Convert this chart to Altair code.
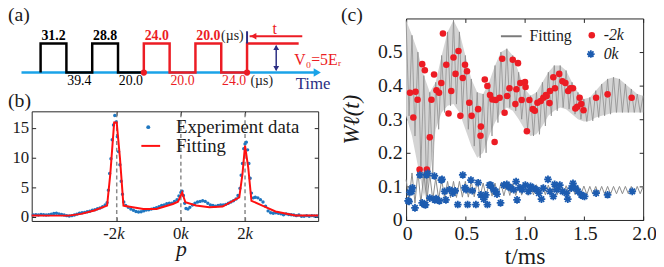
import altair as alt
import pandas as pd

W, H = 656, 259
SERIF = "Liberation Serif"
RED = "#ec1c24"
NAVY = "#2b2e83"
SKY = "#1aa3e8"
DOT_BLUE = "#1f77c0"
AST_BLUE = "#1d5cb0"
FRAME = "#262626"
GRAY_FILL = "#d4d4d4"
GRAY_LINE = "#858585"

# ---------------- panel (a): pulse schematic ----------------
a_edges = [0, 1, 2, 3, 4, 5, 6, 7, 8, 10]
a_levels = [1, 0, 1, 0, 1, 0, 1, 0, 1]
a_high_labels = ["31.2", "28.8", "24.0", "20.0"]
a_high_colors = ["black", "black", RED, RED]
a_low_labels = ["39.4", "20.0", "20.0", "24.0"]
a_low_colors = ["black", "black", RED, RED]

# ---------------- panel (b): momentum distribution ----------------
b_exp_p = [-4.60, -4.52, -4.44, -4.36, -4.28, -4.20, -4.12, -4.04, -3.96, -3.88,
           -3.80, -3.72, -3.64, -3.56, -3.48, -3.40, -3.32, -3.24, -3.16, -3.08,
           -3.00, -2.92, -2.84, -2.76, -2.68, -2.60, -2.52, -2.44, -2.36, -2.30,
           -2.26, -2.22, -2.18, -2.14, -2.10, -2.06, -2.02, -1.98, -1.94, -1.90,
           -1.86, -1.82, -1.78, -1.72, -1.64, -1.56, -1.48, -1.40, -1.32, -1.24,
           -1.16, -1.08, -1.00, -0.92, -0.84, -0.76, -0.68, -0.60, -0.52, -0.44,
           -0.36, -0.28, -0.20, -0.12, -0.06, 0.00, 0.04, 0.08, 0.12, 0.16,
           0.22, 0.28, 0.36, 0.44, 0.52, 0.60, 0.68, 0.76, 0.84, 0.92,
           1.00, 1.08, 1.16, 1.24, 1.32, 1.40, 1.48, 1.56, 1.64, 1.72,
           1.78, 1.84, 1.88, 1.92, 1.96, 2.00, 2.04, 2.08, 2.12, 2.16,
           2.20, 2.26, 2.32, 2.40, 2.48, 2.56, 2.64, 2.72, 2.80, 2.88,
           2.96, 3.04, 3.12, 3.20, 3.28, 3.36, 3.44, 3.52, 3.60, 3.68,
           3.76, 3.84, 3.92, 4.00, 4.08, 4.16, 4.24]
b_exp_v = [0.30, 0.35, 0.30, 0.40, 0.35, 0.30, 0.35, 0.45, 0.55, 0.60,
           0.50, 0.40, 0.30, 0.20, 0.15, 0.20, 0.30, 0.45, 0.60, 0.70,
           0.75, 0.85, 0.95, 1.10, 1.20, 1.35, 1.50, 1.70, 2.00, 2.40,
           4.50, 7.30, 9.80, 13.0, 15.5, 17.1, 16.0, 13.5, 11.0, 8.80,
           6.00, 3.80, 2.50, 1.90, 1.60, 1.30, 1.10, 0.90, 0.80, 0.85,
           1.00, 1.15, 1.20, 1.30, 1.40, 1.55, 1.70, 1.90, 2.00, 2.20,
           2.30, 2.30, 2.60, 2.90, 3.50, 4.10, 4.30, 3.60, 2.30, 1.40,
           1.30, 1.60, 2.00, 2.30, 2.50, 2.60, 2.70, 2.60, 2.30, 2.00,
           1.90, 1.80, 1.90, 2.00, 2.00, 2.10, 2.30, 2.50, 2.70, 3.00,
           3.60, 4.80, 7.00, 9.00, 11.5, 12.3, 12.6, 11.3, 9.00, 6.50,
           4.00, 3.20, 3.30, 3.20, 2.90, 2.50, 1.80, 1.00, 0.70, 0.60,
           0.70, 0.60, 0.50, 0.35, 0.50, 0.40, 0.35, 0.30, 0.20, 0.30,
           0.10, 0.10, 0.20, 0.10, 0.20, 0.15, 0.15]
b_fit_p = [-4.65, -4.10, -3.50, -3.10, -2.70, -2.30, -2.20, -2.08, -2.00, -1.90,
           -1.79, -1.64, -1.17, -0.76, -0.25, -0.09, 0.04, 0.14, 0.47, 0.89,
           1.30, 1.82, 1.92, 2.00, 2.10, 2.20, 2.54, 2.95, 3.57, 4.28]
b_fit_v = [0.23, 0.20, 0.20, 0.50, 1.07, 1.90, 7.20, 15.9, 15.9, 10.0,
           1.90, 1.75, 1.33, 1.33, 2.17, 2.56, 4.10, 2.45, 1.90, 1.60,
           1.73, 3.28, 7.20, 12.0, 8.30, 2.70, 1.90, 0.90, 0.23, 0.23]
b_marks = [-2, 0, 2]
b_yticks = [0, 5, 10, 15]
B_XDOM = [-4.65, 4.28]
B_YDOM = [-0.7, 17.8]

# ---------------- panel (c): populations vs time ----------------
c_t = [0.00, 0.05, 0.10, 0.15, 0.20, 0.25, 0.30, 0.35, 0.40, 0.45,
       0.50, 0.55, 0.60, 0.65, 0.70, 0.75, 0.80, 0.85, 0.90, 0.95,
       1.00, 1.05, 1.10, 1.15, 1.20, 1.25, 1.30, 1.35, 1.40, 1.45,
       1.50, 1.55, 1.60, 1.65, 1.70, 1.75, 1.80, 1.85, 1.90, 1.95, 2.00]
c_up2k = [0.595, 0.55, 0.50, 0.43, 0.38, 0.41, 0.49, 0.56, 0.595, 0.56,
          0.49, 0.42, 0.38, 0.375, 0.41, 0.46, 0.50, 0.51, 0.49, 0.44,
          0.39, 0.37, 0.38, 0.41, 0.44, 0.46, 0.46, 0.445, 0.41, 0.38,
          0.36, 0.365, 0.385, 0.405, 0.42, 0.425, 0.42, 0.405, 0.39, 0.375, 0.37]
c_lo2k = [0.31, 0.25, 0.16, 0.07, 0.13, 0.27, 0.32, 0.34, 0.345, 0.32,
          0.27, 0.22, 0.185, 0.20, 0.25, 0.29, 0.32, 0.335, 0.325, 0.30,
          0.27, 0.25, 0.255, 0.28, 0.31, 0.325, 0.335, 0.33, 0.315, 0.30,
          0.293, 0.295, 0.305, 0.31, 0.315, 0.32, 0.32, 0.32, 0.32, 0.32, 0.32]
c_up0k = [0.12, 0.14, 0.145, 0.14, 0.135, 0.125, 0.12, 0.115, 0.115, 0.115,
          0.115, 0.115, 0.115, 0.11, 0.11, 0.11, 0.11, 0.108, 0.108, 0.106,
          0.106, 0.105, 0.105, 0.104, 0.104, 0.103, 0.103, 0.102, 0.102, 0.101,
          0.101, 0.10, 0.10, 0.10, 0.10, 0.10, 0.10, 0.10, 0.10, 0.10, 0.10]
c_lo0k = [0.06, 0.05, 0.05, 0.055, 0.06, 0.062, 0.065, 0.066, 0.067, 0.068,
          0.068, 0.069, 0.07, 0.07, 0.071, 0.072, 0.072, 0.073, 0.073, 0.074,
          0.074, 0.075, 0.075, 0.075, 0.075, 0.075, 0.076, 0.076, 0.076, 0.076,
          0.076, 0.077, 0.077, 0.077, 0.077, 0.078, 0.078, 0.078, 0.078, 0.078, 0.078]
c_m2k_t = [0.033, 0.080, 0.097, 0.061, 0.136, 0.158, 0.214, 0.236, 0.256, 0.278,
           0.297, 0.311, 0.339, 0.358, 0.381, 0.400, 0.417, 0.442, 0.458, 0.478,
           0.497, 0.514, 0.533, 0.553, 0.608, 0.631, 0.628, 0.664, 0.686, 0.708,
           0.728, 0.756, 0.789, 0.811, 0.831, 0.853, 0.872, 0.900, 0.922, 0.944,
           0.931, 0.964, 0.975, 1.003, 1.008, 1.019, 1.040, 1.069, 1.086, 1.108,
           1.136, 1.158, 1.186, 1.214, 1.180, 1.210, 1.242, 1.256, 1.292, 1.319,
           1.344, 1.367, 1.386, 1.408, 1.428, 1.444, 1.464, 1.478, 1.497, 1.603,
           1.700, 1.903, 0.114, 0.175, 0.200, 0.747]
c_m2k_w = [0.379, 0.382, 0.358, 0.305, 0.464, 0.446, 0.358, 0.433, 0.386, 0.379,
           0.408, 0.555, 0.462, 0.317, 0.384, 0.484, 0.435, 0.503, 0.310, 0.423,
           0.462, 0.443, 0.349, 0.310, 0.330, 0.278, 0.251, 0.418, 0.399, 0.372,
           0.359, 0.357, 0.364, 0.480, 0.319, 0.369, 0.392, 0.477, 0.345, 0.467,
           0.389, 0.408, 0.357, 0.411, 0.396, 0.264, 0.357, 0.330, 0.325, 0.349,
           0.354, 0.364, 0.369, 0.384, 0.372, 0.348, 0.425, 0.392, 0.435, 0.413,
           0.408, 0.384, 0.392, 0.392, 0.332, 0.337, 0.364, 0.345, 0.327, 0.364,
           0.374, 0.364, 0.150, 0.150, 0.246, 0.232]
c_0k_t = [0.017, 0.025, 0.031, 0.047, 0.053, 0.075, 0.117, 0.136, 0.153, 0.164,
          0.172, 0.183, 0.200, 0.239, 0.242, 0.253, 0.281, 0.297, 0.303, 0.325,
          0.336, 0.367, 0.394, 0.414, 0.436, 0.478, 0.497, 0.506, 0.519, 0.547,
          0.558, 0.589, 0.608, 0.631, 0.656, 0.672, 0.686, 0.703, 0.714, 0.739,
          0.756, 0.767, 0.797, 0.825, 0.850, 0.867, 0.878, 0.908, 0.928, 0.936,
          0.961, 0.978, 1.006, 1.033, 1.050, 1.075, 1.103, 1.120, 1.142, 1.158,
          1.197, 1.214, 1.242, 1.253, 1.270, 1.297, 1.320, 1.353, 1.364, 1.394,
          1.408, 1.430, 1.450, 1.478, 1.490, 1.506, 1.603, 1.700, 1.908]
c_0k_w = [0.057, 0.055, 0.082, 0.085, 0.096, 0.036, 0.134, 0.051, 0.046, 0.045,
          0.134, 0.139, 0.065, 0.131, 0.060, 0.064, 0.057, 0.119, 0.121, 0.085,
          0.060, 0.090, 0.080, 0.087, 0.046, 0.134, 0.096, 0.090, 0.046, 0.119,
          0.087, 0.046, 0.111, 0.075, 0.062, 0.075, 0.046, 0.104, 0.104, 0.090,
          0.085, 0.077, 0.051, 0.104, 0.106, 0.099, 0.096, 0.090, 0.114, 0.060,
          0.096, 0.090, 0.104, 0.085, 0.100, 0.095, 0.090, 0.080, 0.062, 0.095,
          0.121, 0.085, 0.070, 0.106, 0.090, 0.104, 0.085, 0.080, 0.062, 0.095,
          0.109, 0.095, 0.085, 0.075, 0.072, 0.070, 0.080, 0.075, 0.085]
C_XDOM = [0, 2]
C_YDOM = [0, 0.6]
c_xticks = [0, 0.5, 1.0, 1.5, 2.0]
c_yticks = [0, 0.1, 0.2, 0.3, 0.4, 0.5]

# ---------------- layout (pixels inside the chart) ----------------
XB, YB = [24, 314], [214, 103]
XC, YC = [403, 643], [213, 9]
XA, YA = [33 - 26.125, 242 + 3 * 26.125], [63.7, 34.3]
A_XDOM, A_YDOM = [-1, 11], [0, 1]


def sc(dom, rng):
    return alt.Scale(domain=dom, range=rng, nice=False, zero=False)


def ax(orient, pos, values, labels=False, ticks=False, domain=False, **kw):
    if orient == "bottom":
        off = pos - H
    elif orient in ("top", "left"):
        off = -pos
    else:
        off = pos - W
    d = dict(orient=orient, offset=off, values=values, labels=labels, ticks=ticks,
             domain=domain, grid=False, title=None, tickSize=4 if ticks else 0,
             domainColor=FRAME, tickColor=FRAME, domainWidth=1, tickWidth=1,
             labelFont=SERIF, labelColor="#1a1a1a", labelFlush=False,
             labelOverlap=False)
    d.update(kw)
    return alt.Axis(**d)


layers = []

# ===== panel (a) =====
sxa = lambda: sc(A_XDOM, XA)
sya = lambda: sc(A_YDOM, YA)
rows = []
for grp, idx, col in (("black", [0, 1, 2, 3], "black"), ("red", [4, 5, 6, 7, 8], RED)):
    pts = [(a_edges[idx[0]], 0)]
    for i in idx:
        pts += [(a_edges[i], a_levels[i]), (a_edges[i + 1], a_levels[i])]
    for k, (u, l) in enumerate(pts):
        rows.append(dict(g=grp, col=col, o=k, u=u, l=l))
df_wave = pd.DataFrame(rows)

time_axis = pd.DataFrame({"u": [-0.74, 10.6], "l": [0, 0]})
layers.append(alt.Chart(time_axis).mark_line(color=SKY, strokeWidth=2.5).encode(
    x=alt.X("u:Q", scale=sxa(), axis=None), y=alt.Y("l:Q", scale=sya(), axis=None)))
layers.append(alt.Chart(pd.DataFrame({"u": [10.72], "l": [0]})).mark_point(
    shape="triangle-right", filled=True, color=SKY, size=70, opacity=1).encode(
    x=alt.X("u:Q", scale=sxa(), axis=None), y=alt.Y("l:Q", scale=sya(), axis=None)))
layers.append(alt.Chart(df_wave).mark_line(strokeWidth=2.5, strokeJoin="miter").encode(
    x=alt.X("u:Q", scale=sxa(), axis=None), y=alt.Y("l:Q", scale=sya(), axis=None),
    color=alt.Color("col:N", scale=None), detail="g:N", order="o:Q"))
layers.append(alt.Chart(pd.DataFrame({"u": [a_edges[4], a_edges[8]], "l": [0, 0]})).mark_circle(
    color=RED, size=40, opacity=1).encode(
    x=alt.X("u:Q", scale=sxa(), axis=None), y=alt.Y("l:Q", scale=sya(), axis=None)))
# navy marker at start of t
layers.append(alt.Chart(pd.DataFrame({"u": [a_edges[8]], "l": [1.0], "l2": [1.42]})).mark_rule(
    color=NAVY, strokeWidth=2).encode(
    x=alt.X("u:Q", scale=sxa(), axis=None), y=alt.Y("l:Q", scale=sya(), axis=None), y2="l2:Q"))
# red t arrow
layers.append(alt.Chart(pd.DataFrame({"u": [8.1], "u2": [10.14], "l": [1.25]})).mark_rule(
    color=RED, strokeWidth=2).encode(
    x=alt.X("u:Q", scale=sxa(), axis=None), x2="u2:Q", y=alt.Y("l:Q", scale=sya(), axis=None)))
layers.append(alt.Chart(pd.DataFrame({"u": [8.25], "l": [1.25]})).mark_point(
    shape="triangle-left", filled=True, color=RED, size=45, opacity=1).encode(
    x=alt.X("u:Q", scale=sxa(), axis=None), y=alt.Y("l:Q", scale=sya(), axis=None)))
# navy double arrow (V0)
layers.append(alt.Chart(pd.DataFrame({"u": [9.13], "l": [0.08], "l2": [0.92]})).mark_rule(
    color=NAVY, strokeWidth=1.5).encode(
    x=alt.X("u:Q", scale=sxa(), axis=None), y=alt.Y("l:Q", scale=sya(), axis=None), y2="l2:Q"))
layers.append(alt.Chart(pd.DataFrame({"u": [9.13, 9.13], "l": [0.86, 0.14],
                                      "s": ["triangle-up", "triangle-down"]})).mark_point(
    filled=True, color=NAVY, size=35, opacity=1).encode(
    x=alt.X("u:Q", scale=sxa(), axis=None), y=alt.Y("l:Q", scale=sya(), axis=None),
    shape=alt.Shape("s:N", scale=None)))
# labels
df_hi = pd.DataFrame({"u": [(a_edges[i] + a_edges[i + 1]) / 2 for i in (0, 2, 4, 6)],
                      "l": [1] * 4, "txt": a_high_labels, "col": a_high_colors})
df_lo = pd.DataFrame({"u": [(a_edges[i] + a_edges[i + 1]) / 2 for i in (1, 3, 5, 7)],
                      "l": [0] * 4, "txt": a_low_labels, "col": a_low_colors})
layers.append(alt.Chart(df_hi).mark_text(font=SERIF, fontSize=14, fontWeight="bold",
                                         baseline="alphabetic", dy=-4).encode(
    x=alt.X("u:Q", scale=sxa(), axis=None), y=alt.Y("l:Q", scale=sya(), axis=None),
    text="txt:N", color=alt.Color("col:N", scale=None)))
layers.append(alt.Chart(df_lo).mark_text(font=SERIF, fontSize=14,
                                         baseline="alphabetic", dy=13).encode(
    x=alt.X("u:Q", scale=sxa(), axis=None), y=alt.Y("l:Q", scale=sya(), axis=None),
    text="txt:N", color=alt.Color("col:N", scale=None)))
df_ann = pd.DataFrame({"u": [7.43, 8.57], "l": [1, 0], "txt": ["(µs)", "(µs)"], "dy": [-4, 13]})
for i in range(len(df_ann)):
    layers.append(alt.Chart(df_ann.iloc[[i]]).mark_text(
        font=SERIF, fontSize=14, baseline="alphabetic", dy=int(df_ann["dy"][i]), color="#222").encode(
        x=alt.X("u:Q", scale=sxa(), axis=None), y=alt.Y("l:Q", scale=sya(), axis=None), text="txt:N"))
layers.append(alt.Chart(pd.DataFrame({"u": [10.56], "l": [0], "txt": ["Time"]})).mark_text(
    font=SERIF, fontSize=17, baseline="alphabetic", dy=17, color=NAVY).encode(
    x=alt.X("u:Q", scale=sxa(), axis=None), y=alt.Y("l:Q", scale=sya(), axis=None), text="txt:N"))
layers.append(alt.Chart(pd.DataFrame({"u": [9.07], "l": [1.49], "txt": ["t"]})).mark_text(
    font=SERIF, fontSize=16, baseline="middle", color=RED).encode(
    x=alt.X("u:Q", scale=sxa(), axis=None), y=alt.Y("l:Q", scale=sya(), axis=None), text="txt:N"))
layers.append(alt.Chart(pd.DataFrame({"u": [9.83], "l": [0.43], "txt": ["V₀=5Eᵣ"]})).mark_text(
    font=SERIF, fontSize=16, baseline="middle", align="left", color=RED).encode(
    x=alt.X("u:Q", scale=sxa(), axis=None), y=alt.Y("l:Q", scale=sya(), axis=None), text="txt:N"))

# ===== panel (b) =====
sxb = lambda: sc(B_XDOM, XB)
syb = lambda: sc(B_YDOM, YB)
dfb_exp = pd.DataFrame({"p": b_exp_p, "v": b_exp_v})
dfb_fit = pd.DataFrame({"p": b_fit_p, "v": b_fit_v})
dfb_mark = pd.DataFrame({"p": b_marks, "lo": [B_YDOM[0]] * 3, "hi": [B_YDOM[1]] * 3})

layers.append(alt.Chart(dfb_mark).mark_rule(color="#8a8a8a", strokeDash=[4, 3], strokeWidth=1.5).encode(
    x=alt.X("p:Q", scale=sxb(), axis=ax("top", YB[0], b_marks, ticks=True)),
    y=alt.Y("lo:Q", scale=syb(), axis=ax("left", XB[1], b_yticks, ticks=True, domain=True)),
    y2="hi:Q"))
layers.append(alt.Chart(dfb_exp).mark_circle(size=12, color=DOT_BLUE, opacity=1).encode(
    x=alt.X("p:Q", scale=sxb(), axis=ax(
        "bottom", YB[0], b_marks, labels=True, domain=True,
        labelExpr="(datum.value < 0 ? '-' : '') + abs(datum.value)", labelAlign="right",
        labelPadding=5, labelFontSize=17, title="p", titleFont=SERIF, titleFontStyle="italic",
        titleFontWeight="normal", titleFontSize=22, titleColor="#1a1a1a",
        titleX=(XB[0] + (0 - B_XDOM[0]) / (B_XDOM[1] - B_XDOM[0]) * (XB[1] - XB[0])),
        titleY=35, titleBaseline="alphabetic", titleAlign="center")),
    y=alt.Y("v:Q", scale=syb(), axis=ax("left", XB[0], b_yticks, labels=True, domain=True,
                                        labelPadding=3, labelFontSize=17))))
layers.append(alt.Chart(dfb_fit).mark_line(color="#ff1010", strokeWidth=2).encode(
    x=alt.X("p:Q", scale=sxb(), axis=ax("bottom", YB[0], b_marks, labels=True,
                                        labelExpr="'k'", labelAlign="left",
                                        labelFontStyle="italic", labelPadding=5,
                                        labelFontSize=17)),
    y=alt.Y("v:Q", scale=syb(), axis=ax("right", XB[0], b_yticks, ticks=True))))
layers.append(alt.Chart(dfb_mark).mark_point(opacity=0).encode(
    x=alt.X("p:Q", scale=sxb(), axis=ax("bottom", YB[1], b_marks, ticks=True, domain=True)),
    y=alt.Y("lo:Q", scale=syb(), axis=None)))
# legend (b)
one = pd.DataFrame({"a": [0]})
layers.append(alt.Chart(one).mark_circle(size=16, color=DOT_BLUE, opacity=1).encode(
    x=alt.value(142), y=alt.value(119)))
layers.append(alt.Chart(one).mark_rule(color="#ff1010", strokeWidth=2).encode(
    x=alt.value(135), x2=alt.value(154), y=alt.value(138)))
layers.append(alt.Chart(one).mark_text(text="Experiment data", font=SERIF, fontSize=19,
                                       align="left", baseline="middle", color="#1a1a1a").encode(
    x=alt.value(170), y=alt.value(119)))
layers.append(alt.Chart(one).mark_text(text="Fitting", font=SERIF, fontSize=19,
                                       align="left", baseline="middle", color="#1a1a1a").encode(
    x=alt.value(170), y=alt.value(138)))

# ===== panel (c) =====
sxc = lambda: sc(C_XDOM, XC)
syc = lambda: sc(C_YDOM, YC)
df_env = pd.DataFrame({"t": c_t, "u": c_up2k, "l": c_lo2k})
z2, z0 = [], []
for i, t in enumerate(c_t):
    z2.append((t, c_up2k[i]))
    z0.append((t, c_up0k[i]))
    if i < len(c_t) - 1:
        z2.append((t + 0.025, c_lo2k[i]))
        z0.append((t + 0.025, c_lo0k[i]))
df_z2 = pd.DataFrame(z2, columns=["t", "w"])
df_z0 = pd.DataFrame(z0, columns=["t", "w"])
df_m2 = pd.DataFrame({"t": c_m2k_t, "w": c_m2k_w})
df_m0 = pd.DataFrame({"t": c_0k_t, "w": c_0k_w})
lab01 = "datum.value == 0 ? '0' : format(datum.value, '.1f')"

layers.append(alt.Chart(df_env).mark_area(color=GRAY_FILL, opacity=1).encode(
    x=alt.X("t:Q", scale=sxc(), axis=ax(
        "bottom", YC[0], c_xticks, labels=True, domain=True, labelExpr=lab01,
        labelFontSize=20, labelPadding=4, labelOffset=1, title="t/ms", titleFont=SERIF,
        titleFontWeight="normal", titleFontSize=24, titleColor="#1a1a1a",
        titleX=(XC[0] + XC[1]) / 2, titleY=37, titleBaseline="middle", titleAlign="center")),
    y=alt.Y("u:Q", scale=syc(), axis=ax(
        "left", XC[0], c_yticks, labels=True, domain=True, labelExpr=lab01,
        labelFontSize=20, labelPadding=4, title="Wℓ(t)", titleFont=SERIF,
        titleFontStyle="italic", titleFontWeight="normal", titleFontSize=23,
        titleColor="#1a1a1a", titleAngle=270, titleX=-55, titleY=(YC[0] + YC[1]) / 2,
        titleBaseline="middle", titleAlign="center")),
    y2="l:Q"))
layers.append(alt.Chart(df_z2).mark_line(color=GRAY_LINE, strokeWidth=0.7).encode(
    x=alt.X("t:Q", scale=sxc(), axis=ax("top", YC[0], c_xticks, ticks=True)),
    y=alt.Y("w:Q", scale=syc(), axis=ax("right", XC[0], c_yticks, ticks=True))))
layers.append(alt.Chart(df_z0).mark_line(color="#8c8c8c", strokeWidth=1).encode(
    x=alt.X("t:Q", scale=sxc(), axis=ax("bottom", YC[1], c_xticks, ticks=True, domain=True)),
    y=alt.Y("w:Q", scale=syc(), axis=ax("left", XC[1], c_yticks, ticks=True, domain=True))))
layers.append(alt.Chart(df_m2).mark_circle(size=44, color=RED, opacity=1).encode(
    x=alt.X("t:Q", scale=sxc(), axis=None), y=alt.Y("w:Q", scale=syc(), axis=None)))
AST = "M-1,0L1,0M0,-1L0,1M-0.71,-0.71L0.71,0.71M-0.71,0.71L0.71,-0.71"
layers.append(alt.Chart(df_m0).mark_point(shape=AST, filled=False, color=AST_BLUE,
                                          strokeWidth=1.8, size=60, opacity=1).encode(
    x=alt.X("t:Q", scale=sxc(), axis=None), y=alt.Y("w:Q", scale=syc(), axis=None)))
# legend (c)
layers.append(alt.Chart(one).mark_rule(color="#7a7a7a", strokeWidth=2).encode(
    x=alt.value(499), x2=alt.value(520), y=alt.value(27)))
layers.append(alt.Chart(one).mark_text(text="Fitting", font=SERIF, fontSize=16,
                                       align="left", baseline="middle", color="#1a1a1a").encode(
    x=alt.value(528), y=alt.value(27)))
layers.append(alt.Chart(one).mark_circle(size=44, color=RED, opacity=1).encode(
    x=alt.value(591), y=alt.value(26)))
layers.append(alt.Chart(one).mark_text(text="-2k", font=SERIF, fontSize=16, fontStyle="italic",
                                       align="left", baseline="middle", color="#1a1a1a").encode(
    x=alt.value(603), y=alt.value(26)))
layers.append(alt.Chart(one).mark_point(shape=AST, filled=False, color=AST_BLUE,
                                        strokeWidth=1.8, size=60, opacity=1).encode(
    x=alt.value(590), y=alt.value(45)))
layers.append(alt.Chart(one).mark_text(text="0k", font=SERIF, fontSize=16, fontStyle="italic",
                                       align="left", baseline="middle", color="#1a1a1a").encode(
    x=alt.value(603), y=alt.value(45)))

# panel letters
for txt, px, py in (("(a)", 0, 6), ("(b)", 0, 93), ("(c)", 337, 6)):
    layers.append(alt.Chart(one).mark_text(text=txt, font=SERIF, fontSize=20, align="left",
                                           baseline="middle", color="#1a1a1a").encode(
        x=alt.value(px), y=alt.value(py)))

chart = alt.layer(*layers).resolve_scale(x="independent", y="independent").properties(
    width=W, height=H, autosize=alt.AutoSizeParams(type="none"), padding=0,
    background="white").configure_view(strokeWidth=0)

chart.save("out.html", embed_options={"renderer": "svg", "actions": False})
